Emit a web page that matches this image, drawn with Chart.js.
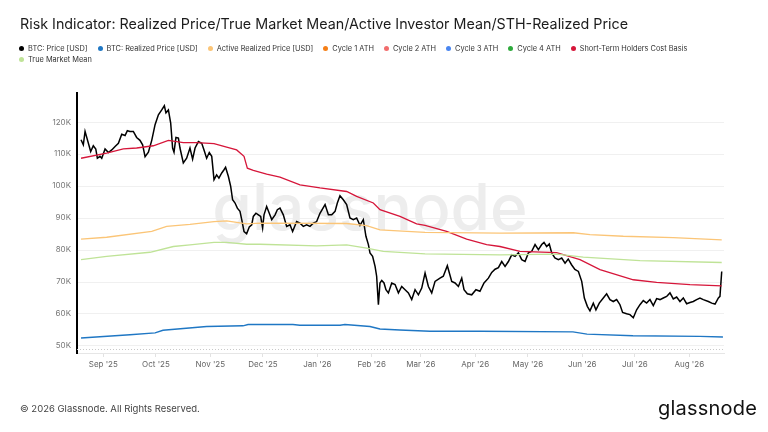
<!DOCTYPE html>
<html>
<head>
<meta charset="utf-8">
<script src="https://cdn.jsdelivr.net/npm/chart.js@4.4.1/dist/chart.umd.min.js"></script>
<style>
  body { margin: 0; background: #fff; font-family: Inter, "Noto Sans", sans-serif; }
  #page { position: relative; width: 768px; height: 432px; overflow: hidden; }
  #title { position: absolute; left: 20px; top: 15px; font-size: 14.3px; color: #1c1c1c; white-space: nowrap; }
  #legend { position: absolute; left: 19px; top: 43px; width: 740px; display: flex; flex-wrap: wrap; font-size: 7.4px; line-height: 11px; color: #333; }
  #legend .item { display: flex; align-items: center; margin-right: 10px; white-space: nowrap; }
  #legend .dot { width: 5px; height: 5px; border-radius: 50%; margin-right: 4px; }
  #chart { position: absolute; left: 0; top: 0; }
  #footer { position: absolute; left: 20px; top: 403px; font-size: 9.5px; color: #444; }
  #logo { position: absolute; right: 11px; top: 396px; font-size: 20px; color: #111; letter-spacing: 0.2px; }
</style>
</head>
<body>
<div id="page">
  <canvas id="chart" width="768" height="432"></canvas>
  <div id="title">Risk Indicator: Realized Price/True Market Mean/Active Investor Mean/STH-Realized Price</div>
  <div id="legend"></div>
  <div id="footer">© 2026 Glassnode. All Rights Reserved.</div>
  <div id="logo">glassnode</div>
</div>
<script>
// x values are days counted from 1 Sep 2025, y values in thousand USD

// Axis ticks
const monthDays = [0, 30, 61, 91, 122, 153, 181, 212, 242, 273, 303, 334];
const monthLabels = ["Sep '25", "Oct '25", "Nov '25", "Dec '25", "Jan '26", "Feb '26",
                     "Mar '26", "Apr '26", "May '26", "Jun '26", "Jul '26", "Aug '26"];
const yTicks = [50, 60, 70, 80, 90, 100, 110, 120];
const yLabels = ['50K', '60K', '70K', '80K', '90K', '100K', '110K', '120K'];

// Legend
const seriesNames = ['BTC: Price [USD]', 'BTC: Realized Price [USD]', 'Active Realized Price [USD]',
                     'Cycle 1 ATH', 'Cycle 2 ATH', 'Cycle 3 ATH', 'Cycle 4 ATH',
                     'Short-Term Holders Cost Basis', 'True Market Mean'];
const seriesColors = ['#000000', '#1f77c4', '#fbc577', '#f57f17', '#f26d6d', '#4a86f0', '#2eaa3c', '#d6163a', '#bfe397'];

// BTC price
const priceDays = [-12.7, -11.4, -10.4, -7.2, -5.7, -4.3, -3.4, -1.9, -0.9, 1.0, 2.9, 4.8, 6.7, 8.6, 10.5,
  12.4, 13.7, 15.2, 17.1, 19.0, 20.9, 22.4, 23.8, 25.7, 27.6, 29.5, 31.4, 33.3, 34.8, 35.7, 37.1, 38.4,
  39.5, 40.3, 41.4, 42.8, 43.7, 45.6, 47.5, 49.4, 50.9, 52.3, 54.2, 56.1, 57.4, 58.9, 60.4, 61.8, 63.1,
  64.6, 65.9, 67.5, 68.8, 69.7, 71.3, 72.6, 73.7, 75.1, 76.4, 77.9, 78.9, 80.2, 81.7, 83.2, 84.6, 85.5,
  87.0, 88.4, 89.7, 90.8, 91.6, 93.1, 94.6, 96.0, 97.9, 99.2, 100.7, 102.6, 104.5, 106.4, 107.9, 110.2,
  112.1, 114.0, 115.9, 117.8, 119.7, 121.6, 123.5, 126.4, 128.3, 130.2, 132.1, 133.4, 134.9, 136.8,
  138.7, 140.6, 142.5, 144.4, 146.3, 148.2, 149.7, 151.1, 152.0, 153.5, 154.9, 155.8, 156.8, 157.7,
  158.7, 160.0, 161.1, 162.5, 164.4, 166.3, 168.2, 170.1, 172.0, 173.9, 175.8, 177.7, 179.6, 181.5,
  183.4, 185.3, 187.2, 189.1, 191.9, 193.8, 196.1, 198.6, 200.5, 202.4, 204.3, 205.6, 207.5, 210.0,
  212.4, 214.7, 217.0, 219.5, 221.4, 223.3, 225.2, 227.1, 229.0, 230.9, 232.8, 234.7, 236.6, 238.5,
  240.4, 242.3, 244.2, 246.1, 248.0, 249.9, 251.2, 252.7, 254.2, 255.6, 257.4, 259.4, 261.3, 263.2,
  265.0, 266.9, 268.8, 270.8, 272.7, 274.2, 275.9, 277.4, 279.3, 280.8, 282.7, 285.0, 286.9, 288.8,
  290.7, 292.6, 294.5, 296.0, 298.3, 300.2, 302.1, 304.0, 305.9, 307.8, 309.7, 311.6, 313.5, 315.4,
  317.3, 319.2, 321.1, 323.0, 324.9, 326.8, 328.7, 330.6, 332.5, 334.4, 336.3, 338.2, 340.1, 342.0,
  344.9, 346.8, 348.7, 350.6, 351.5, 352.5];
const priceValues = [114.5, 112.9, 117.1, 110.8, 112.6, 111.6, 108.7, 109.3, 108.7, 111.6, 110.5, 111.3, 112.4, 113.4, 116.2,
  115.8, 117.3, 117.1, 117.1, 115.2, 114.3, 112.9, 109.2, 110.6, 114.3, 119.2, 122.3, 123.8, 125.1, 122.9, 123.8, 119.7,
  111.9, 110.6, 115.2, 115.0, 111.9, 107.2, 108.7, 111.9, 108.4, 111.9, 113.9, 113.4, 111.3, 108.7, 110.5, 109.3, 102.0,
  103.5, 102.5, 104.1, 105.1, 105.9, 103.0, 99.9, 95.7, 94.7, 93.1, 92.1, 89.5, 85.8, 85.1, 87.2, 87.9, 90.5,
  91.5, 91.0, 90.5, 86.9, 91.0, 93.6, 91.5, 89.5, 91.0, 92.6, 93.1, 91.0, 87.4, 87.9, 85.8, 88.9,
  88.4, 87.4, 87.9, 87.4, 88.4, 88.9, 91.5, 94.2, 91.0, 91.0, 92.1, 94.7, 97.0, 95.7,
  94.2, 90.0, 89.5, 90.0, 87.7, 89.5, 84.3, 81.7, 79.1, 78.0, 74.9, 71.8, 62.9, 69.7,
  70.5, 69.7, 67.6, 66.6, 69.7, 69.2, 66.6, 68.6, 67.6, 66.6, 64.5, 67.6, 66.0, 68.1,
  72.8, 68.6, 66.6, 70.2, 71.2, 71.8, 75.1, 70.2, 69.7, 68.6, 71.2, 67.6, 66.3, 66.0,
  67.6, 67.1, 69.7, 71.2, 73.0, 74.0, 74.5, 76.4, 74.9, 76.4, 78.5, 78.0, 79.1, 77.0,
  76.4, 79.1, 79.6, 81.7, 80.1, 81.7, 82.4, 81.1, 81.9, 79.1, 77.5, 77.0, 77.5, 75.9,
  77.2, 75.4, 73.9, 73.3, 70.2, 65.0, 62.4, 61.0, 63.4, 61.3, 63.4, 65.0, 66.3, 64.5,
  63.9, 64.5, 62.9, 60.5, 60.1, 59.8, 58.8, 61.3, 62.9, 64.2, 63.4, 64.5, 62.6, 64.8,
  64.5, 65.0, 65.5, 66.6, 64.7, 65.3, 63.9, 65.0, 63.2, 63.6, 63.9, 64.5, 65.0, 64.5,
  63.9, 63.4, 63.1, 65.0, 65.5, 73.3];

// BTC realized price
const realizedDays = [-12.7, 15.2, 29.5, 34.0, 58.9, 79.6, 82.5, 108.1, 112.0, 134.9, 137.7, 152.0, 157.7,
  169.0, 186.2, 214.7, 267.7, 275.7, 301.9, 340.1, 353.2];
const realizedValues = [52.5, 53.5, 54.1, 54.9, 56.1, 56.3, 56.7, 56.7, 56.5, 56.5, 56.7, 56.1, 55.3,
  55.0, 54.6, 54.6, 54.4, 53.7, 53.2, 53.0, 52.8];

// Active realized price
const activeDays = [-12.7, 1.9, 27.6, 36.1, 49.4, 63.1, 70.3, 81.7, 89.3, 138.7, 150.1, 157.7, 183.4,
  226.1, 267.9, 277.4, 296.4, 324.9, 352.5];
const activeValues = [83.4, 84.0, 85.8, 87.4, 88.0, 88.9, 89.1, 88.2, 88.4, 88.3, 87.6, 86.3, 85.5,
  85.3, 85.4, 84.8, 84.3, 83.9, 83.2];

// Short-term holders cost basis
const sthDays = [-12.7, 1.9, 11.4, 19.0, 28.5, 37.1, 45.6, 53.2, 63.1, 70.3, 76.0, 80.2, 82.1, 85.5,
  93.1, 100.7, 112.1, 123.5, 138.7, 144.4, 153.9, 157.7, 169.1, 178.6, 183.4, 195.7, 207.1, 218.5,
  226.1, 237.5, 258.4, 271.7, 283.1, 302.1, 315.4, 334.4, 352.5];
const sthValues = [108.7, 110.3, 111.6, 111.9, 112.6, 114.3, 113.6, 113.6, 113.3, 112.2, 111.3, 109.3, 105.6, 104.9,
  103.7, 102.8, 100.4, 99.4, 98.3, 96.8, 94.7, 92.6, 90.5, 88.2, 87.7, 85.8, 83.4, 81.7,
  81.1, 79.6, 79.2, 77.0, 73.9, 70.7, 69.9, 69.2, 68.8];

// True market mean
const tmmDays = [-12.7, 1.9, 26.6, 39.9, 49.4, 63.1, 70.3, 81.7, 89.3, 121.6, 138.7, 150.1, 159.6,
  183.4, 226.1, 258.4, 273.6, 305.9, 352.5];
const tmmValues = [77.0, 78.0, 79.3, 81.1, 81.6, 82.4, 82.4, 81.8, 81.8, 81.3, 81.6, 80.6, 79.6,
  78.8, 78.5, 78.7, 77.8, 76.7, 76.1];

function pts(days, values) {
  return days.map((d, i) => ({ x: d, y: values[i] }));
}

function line(idx, data, width) {
  return {
    label: seriesNames[idx],
    data: data,
    borderColor: seriesColors[idx],
    backgroundColor: seriesColors[idx],
    borderWidth: width,
    pointRadius: 0,
    tension: 0
  };
}

// draw order: price on top
const datasets = [
  line(1, pts(realizedDays, realizedValues), 1.4),
  line(2, pts(activeDays, activeValues), 1.3),
  line(3, [], 1.3),
  line(4, [], 1.3),
  line(5, [], 1.3),
  line(6, [], 1.3),
  line(8, pts(tmmDays, tmmValues), 1.3),
  line(7, pts(sthDays, sthValues), 1.3),
  line(0, pts(priceDays, priceValues), 1.5)
];

// HTML legend
const legendEl = document.getElementById('legend');
seriesNames.forEach((name, i) => {
  const item = document.createElement('div');
  item.className = 'item';
  item.innerHTML = '<span class="dot" style="background:' + seriesColors[i] + '"></span>' + name;
  legendEl.appendChild(item);
});

// Watermark and dotted base line
const decorPlugin = {
  id: 'decor',
  beforeDatasetsDraw(chart) {
    const ctx = chart.ctx;
    const area = chart.chartArea;
    ctx.save();
    ctx.fillStyle = '#ededed';
    ctx.font = '500 64px Inter';
    ctx.textAlign = 'center';
    ctx.textBaseline = 'alphabetic';
    ctx.fillText('glassnode', 370, 230);

    ctx.strokeStyle = '#c8c8c8';
    ctx.lineWidth = 1;
    ctx.setLineDash([1, 2]);
    ctx.beginPath();
    ctx.moveTo(area.left, area.bottom - 3.5);
    ctx.lineTo(area.right, area.bottom - 3.5);
    ctx.stroke();
    ctx.restore();
  }
};

new Chart(document.getElementById('chart'), {
  type: 'line',
  data: { datasets: datasets },
  plugins: [decorPlugin],
  options: {
    responsive: false,
    animation: false,
    parsing: true,
    layout: { padding: { top: 93, right: 44, left: 0, bottom: 0 } },
    plugins: { legend: { display: false }, tooltip: { enabled: false } },
    scales: {
      x: {
        type: 'linear',
        min: -15,
        max: 353.8,
        afterBuildTicks: (scale) => { scale.ticks = monthDays.map(v => ({ value: v })); },
        afterFit: (scale) => { scale.height = 79; },
        ticks: {
          autoSkip: false,
          maxRotation: 0,
          padding: 3,
          color: '#666',
          font: { family: 'Inter', size: 8 },
          callback: (v, i) => monthLabels[i]
        },
        grid: { drawOnChartArea: false, drawTicks: true, tickLength: 4, color: '#e2e2e2' },
        border: { color: '#e6e6e6', width: 1 }
      },
      y: {
        type: 'linear',
        min: 47.8,
        max: 129.1,
        afterBuildTicks: (scale) => { scale.ticks = yTicks.map(v => ({ value: v })); },
        afterFit: (scale) => { scale.width = 77; },
        ticks: {
          padding: 6,
          color: '#777',
          font: { family: 'Inter', size: 8 },
          callback: (v, i) => yLabels[i]
        },
        grid: { color: '#f0f0f0', drawTicks: false },
        border: { color: '#000', width: 2 }
      }
    }
  }
});
</script>
</body>
</html>
